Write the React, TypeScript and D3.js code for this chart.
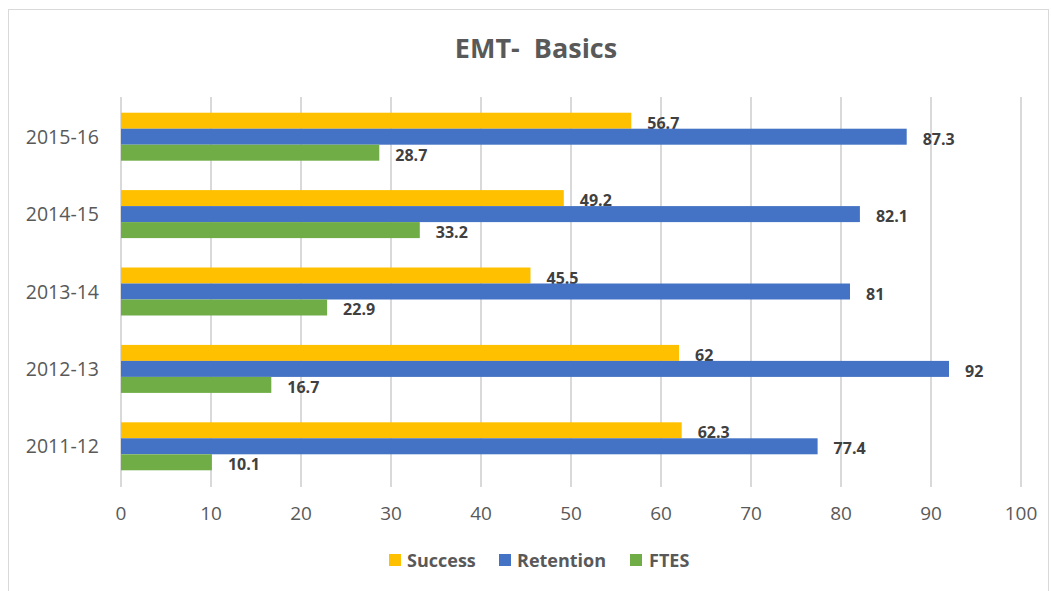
import React from "react";
import * as d3 from "d3";

const categories = ["2015-16", "2014-15", "2013-14", "2012-13", "2011-12"];
const seriesNames = ["Success", "Retention", "FTES"];
const success = [56.7, 49.2, 45.5, 62, 62.3];
const retention = [87.3, 82.1, 81, 92, 77.4];
const ftes = [28.7, 33.2, 22.9, 16.7, 10.1];
const xTicks = [0, 10, 20, 30, 40, 50, 60, 70, 80, 90, 100];
const colors = ["#FFC000", "#4472C4", "#70AD47"];

const W = 1051;
const H = 591;
const FONT = "'Open Sans', Calibri, sans-serif";

export default function App() {
  const seriesValues = [success, retention, ftes];
  const x = d3.scaleLinear().domain([0, 100]).range([121, 1021]);
  const y = d3
    .scaleBand<string>()
    .domain(categories)
    .range([98, 485])
    .paddingInner(0.38)
    .paddingOuter(0.19);
  const sub = d3.scaleBand<string>().domain(seriesNames).range([0, y.bandwidth()]);

  const legendItems = [
    { name: "Success", sx: 389, tx: 407 },
    { name: "Retention", sx: 499, tx: 517 },
    { name: "FTES", sx: 630, tx: 649 },
  ];

  return (
    <svg
      width={W}
      height={H}
      style={{ position: "absolute", left: 0, top: 0, background: "#fff" }}
    >
      <rect x={8.5} y={9.5} width={1040} height={600} fill="#fff" stroke="#d9d9d9" strokeWidth={1} />
      <text
        x={536}
        y={58}
        textAnchor="middle"
        fontFamily={FONT}
        fontSize={27}
        fontWeight="bold"
        fill="#595959"
        style={{ whiteSpace: "pre" }}
      >
        {"EMT-  Basics"}
      </text>
      {xTicks.map((t) => (
        <g key={t}>
          <line x1={x(t)} x2={x(t)} y1={97} y2={487} stroke="#d9d9d9" strokeWidth={2} />
          <text
            x={x(t)}
            y={520}
            textAnchor="middle"
            fontFamily={FONT}
            fontSize={19}
            fill="#595959"
          >
            {t}
          </text>
        </g>
      ))}
      {categories.map((c, i) => (
        <g key={c}>
          <text
            x={99}
            y={(y(c) ?? 0) + y.bandwidth() / 2 + 7}
            textAnchor="end"
            fontFamily={FONT}
            fontSize={19.5}
            fill="#595959"
          >
            {c}
          </text>
          {seriesNames.map((s, j) => {
            const v = seriesValues[j][i];
            const by = (y(c) ?? 0) + (sub(s) ?? 0);
            return (
              <g key={s}>
                <rect x={x(0)} y={by} width={x(v) - x(0)} height={sub.bandwidth()} fill={colors[j]} />
                <text
                  x={x(v) + 16}
                  y={by + sub.bandwidth() / 2 + 8}
                  fontFamily={FONT}
                  fontSize={16}
                  fontWeight="bold"
                  fill="#404040"
                >
                  {v}
                </text>
              </g>
            );
          })}
        </g>
      ))}
      {legendItems.map((l, j) => (
        <g key={l.name}>
          <rect x={l.sx} y={554} width={12} height={12} fill={colors[j]} />
          <text x={l.tx} y={567} fontFamily={FONT} fontSize={18} fontWeight="bold" fill="#595959">
            {l.name}
          </text>
        </g>
      ))}
    </svg>
  );
}
